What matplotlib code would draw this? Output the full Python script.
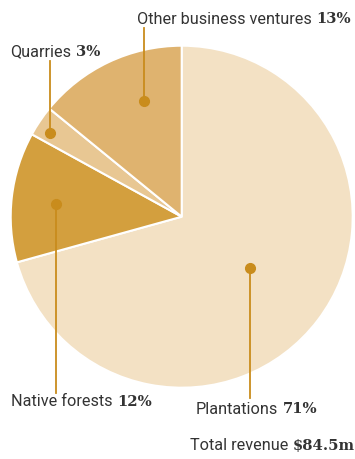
# Revenue breakdown pie chart
import numpy as np
import matplotlib.pyplot as plt

# Data
categories = ["Plantations", "Native forests", "Quarries", "Other business ventures"]
shares = [70.7, 12.3, 2.9, 14.1]          # wedge sizes
share_labels = ["71%", "12%", "3%", "13%"]
total_label = "$84.5m"

colors = ["#f3e1c4", "#d39f3e", "#e8c793", "#dfb36f"]
dot_color = "#c98c1c"
text_color = "#333333"

# Layout (pixel space, y measured from bottom)
W, H = 355, 459
center = (181.7, H - 216.7)
radius = 171
dot_r = [0.50, 0.74, 0.91, 0.71]          # dot radius as a fraction of radius
dot_dtheta = [0.0, 1.0, 1.5, -7.5]        # dot angle offset from wedge middle
line_end = [H - 398, H - 393, H - 61, H - 28]
label_xy = [(196, H - 409), (11, H - 402), (10, H - 52), (137, H - 19)]

fig = plt.figure(figsize=(W / 100, H / 100), dpi=100)
ax = fig.add_axes([0, 0, 1, 1])

wedges, _ = ax.pie(shares, colors=colors, startangle=90, counterclock=False,
                   center=center, radius=radius,
                   wedgeprops=dict(edgecolor="white", linewidth=1.5))
ax.set_xlim(0, W)
ax.set_ylim(0, H)
ax.set_aspect("equal")
ax.axis("off")

sans = "Roboto"
serif = "DejaVu Serif"
for i, w in enumerate(wedges):
    mid = np.deg2rad((w.theta1 + w.theta2) / 2 + dot_dtheta[i])
    dx = center[0] + dot_r[i] * radius * np.cos(mid)
    dy = center[1] + dot_r[i] * radius * np.sin(mid)
    ax.plot([dx, dx], [dy, line_end[i]], color=dot_color, lw=1.3, zorder=3)
    ax.plot(dx, dy, "o", color=dot_color, ms=7, zorder=4)
    t = ax.text(label_xy[i][0], label_xy[i][1], categories[i],
                fontsize=11.7, family=sans, color=text_color, va="center")
    ax.annotate(share_labels[i], xy=(1, 0.5), xycoords=t, va="center",
                xytext=(3.5, 0), textcoords="offset points",
                fontsize=10.6, family=serif, weight="bold", color=text_color)

t = ax.text(190, H - 446, "Total revenue", fontsize=11.7, family=sans,
            color=text_color, va="center")
ax.annotate(total_label, xy=(1, 0.5), xycoords=t, va="center",
            xytext=(3.5, 0), textcoords="offset points",
            fontsize=10.6, family=serif, weight="bold", color=text_color)

plt.savefig("out.png", dpi=100)
